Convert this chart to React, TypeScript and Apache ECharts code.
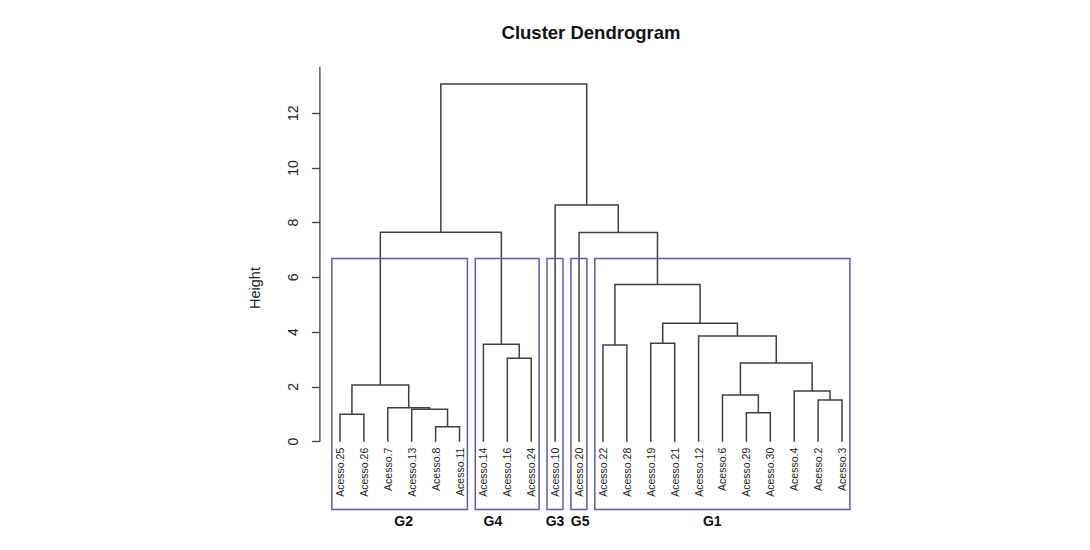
import React, { useEffect, useRef } from "react";
import * as echarts from "echarts";

// Leaf order along the x axis (Acesso numbers)
const leafOrder = [25, 26, 7, 13, 8, 11, 14, 16, 24, 10, 20, 22, 28, 19, 21, 12, 6, 29, 30, 4, 2, 3];

// Merge table in hclust style: negative = leaf (Acesso number), positive = earlier merge row (1-based)
const mergeRows: [number, number][] = [
  [-8, -11],
  [-25, -26],
  [-29, -30],
  [-13, 1],
  [-7, 4],
  [-2, -3],
  [-6, 3],
  [-4, 6],
  [2, 5],
  [7, 8],
  [-16, -24],
  [-22, -28],
  [-14, 11],
  [-19, -21],
  [-12, 10],
  [14, 15],
  [12, 16],
  [-20, 17],
  [9, 13],
  [-10, 18],
  [19, 20],
];
const mergeHeights = [
  0.55, 1.0, 1.06, 1.19, 1.24, 1.52, 1.71, 1.85, 2.07, 2.88, 3.05, 3.53, 3.56, 3.6, 3.86, 4.33, 5.74, 7.64,
  7.65, 8.65, 13.07,
];

// Groups from cutting the tree into 5 clusters
const groupNames = ["G2", "G4", "G3", "G5", "G1"];
const groupMembers = [
  [25, 26, 7, 13, 8, 11],
  [14, 16, 24],
  [10],
  [20],
  [22, 28, 19, 21, 12, 6, 29, 30, 4, 2, 3],
];

// Height axis ticks
const heightTicks = [0, 2, 4, 6, 8, 10, 12];

const FONT = "'Liberation Sans', Arial, Helvetica, sans-serif";
const LINE = "#404040";
const RECT = "#5a5cb4";

// Plot region (usr coordinates)
const X_MIN = 0.16;
const X_MAX = 22.84;
const Y_MIN = -2.48;
const Y_MAX = 13.7;

// Group label offsets (x, in leaf units) relative to each group's box centre
const groupLabelShift = [0.17, -0.6, 0, 0.05, -0.42];

export default function App() {
  const ref = useRef<HTMLDivElement>(null);

  useEffect(() => {
    if (!ref.current) return;
    const chart = echarts.init(ref.current, null, { renderer: "svg" });

    const leafPos = new Map<number, number>();
    leafOrder.forEach((n, i) => leafPos.set(n, i + 1));

    const nodeX: number[] = [];
    const nodeH: number[] = [];
    const links = mergeRows.map(([a, b], i) => {
      const xa = a < 0 ? leafPos.get(-a)! : nodeX[a - 1];
      const ha = a < 0 ? 0 : nodeH[a - 1];
      const xb = b < 0 ? leafPos.get(-b)! : nodeX[b - 1];
      const hb = b < 0 ? 0 : nodeH[b - 1];
      const h = mergeHeights[i];
      nodeX[i] = (xa + xb) / 2;
      nodeH[i] = h;
      return [xa, ha, xb, hb, h];
    });

    const k = groupNames.length;
    const desc = [...mergeHeights].sort((p, q) => q - p);
    const cutHeight = (desc[k - 2] + desc[k - 1]) / 2;

    const boxes = groupMembers.map((m) => {
      const xs = m.map((n) => leafPos.get(n)!);
      return [Math.min(...xs) - 0.34, Math.max(...xs) + 0.33, cutHeight];
    });

    const groupLabels = boxes.map((b, i) => [(b[0] + b[1]) / 2 + groupLabelShift[i], groupNames[i]]);

    const leafLabels = leafOrder.map((n, i) => [i + 1, `Acesso.${n}`]);

    const option: any = {
      animation: false,
      grid: {
        left: 319.9,
        top: 66.7,
        width: 542.2,
        height: 442.9,
        containLabel: false,
        outerBoundsMode: "none",
      },
      xAxis: {
        type: "value",
        min: X_MIN,
        max: X_MAX,
        show: false,
      },
      yAxis: {
        type: "value",
        min: Y_MIN,
        max: Y_MAX,
        axisLine: { show: false },
        splitLine: { show: false },
        axisTick: {
          show: true,
          customValues: heightTicks,
          length: 8,
          lineStyle: { color: LINE, width: 1.3 },
        },
        axisLabel: {
          customValues: heightTicks,
          rotate: 90,
          margin: 20,
          fontSize: 14,
          color: "#222",
          fontFamily: FONT,
        },
      },
      graphic: [
        {
          type: "text",
          x: 591,
          y: 32,
          style: {
            text: "Cluster Dendrogram",
            font: `bold 18.5px ${FONT}`,
            fill: "#111",
            align: "center",
            verticalAlign: "middle",
          },
        },
        {
          type: "text",
          x: 255,
          y: 288,
          rotation: Math.PI / 2,
          style: {
            text: "Height",
            font: `14.5px ${FONT}`,
            fill: "#222",
            align: "center",
            verticalAlign: "middle",
          },
        },
      ],
      series: [
        {
          type: "line",
          data: [
            [X_MIN, 0],
            [X_MIN, Y_MAX],
          ],
          symbol: "none",
          lineStyle: { color: LINE, width: 1.3 },
          silent: true,
        },
        {
          type: "custom",
          data: links,
          silent: true,
          renderItem: (_p: any, api: any) => {
            const xa = api.value(0);
            const ha = api.value(1);
            const xb = api.value(2);
            const hb = api.value(3);
            const h = api.value(4);
            return {
              type: "polyline",
              shape: {
                points: [api.coord([xa, ha]), api.coord([xa, h]), api.coord([xb, h]), api.coord([xb, hb])],
              },
              style: { stroke: LINE, lineWidth: 1.5, fill: "none" },
            };
          },
        },
        {
          type: "custom",
          data: boxes,
          silent: true,
          renderItem: (_p: any, api: any) => {
            const p0 = api.coord([api.value(0), api.value(2)]);
            const p1 = api.coord([api.value(1), Y_MIN]);
            return {
              type: "rect",
              shape: { x: p0[0], y: p0[1], width: p1[0] - p0[0], height: p1[1] - p0[1] },
              style: { stroke: RECT, lineWidth: 1.5, fill: "none" },
            };
          },
        },
        {
          type: "custom",
          data: leafLabels,
          silent: true,
          renderItem: (p: any, api: any) => {
            const pt = api.coord([api.value(0), 0]);
            return {
              type: "text",
              x: pt[0],
              y: pt[1] + 6,
              rotation: Math.PI / 2,
              style: {
                text: leafLabels[p.dataIndex][1],
                font: `10.5px ${FONT}`,
                fill: "#222",
                align: "right",
                verticalAlign: "middle",
              },
            };
          },
        },
        {
          type: "custom",
          data: groupLabels,
          silent: true,
          renderItem: (p: any, api: any) => {
            const pt = api.coord([api.value(0), Y_MIN]);
            return {
              type: "text",
              x: pt[0],
              y: pt[1] + 11,
              style: {
                text: groupLabels[p.dataIndex][1],
                font: `bold 14px ${FONT}`,
                fill: "#111",
                align: "center",
                verticalAlign: "middle",
              },
            };
          },
        },
      ],
    };

    chart.setOption(option);
    return () => chart.dispose();
  }, []);

  return (
    <div
      ref={ref}
      style={{ position: "absolute", left: 0, top: 0, width: 1090, height: 550, background: "#fff" }}
    />
  );
}
